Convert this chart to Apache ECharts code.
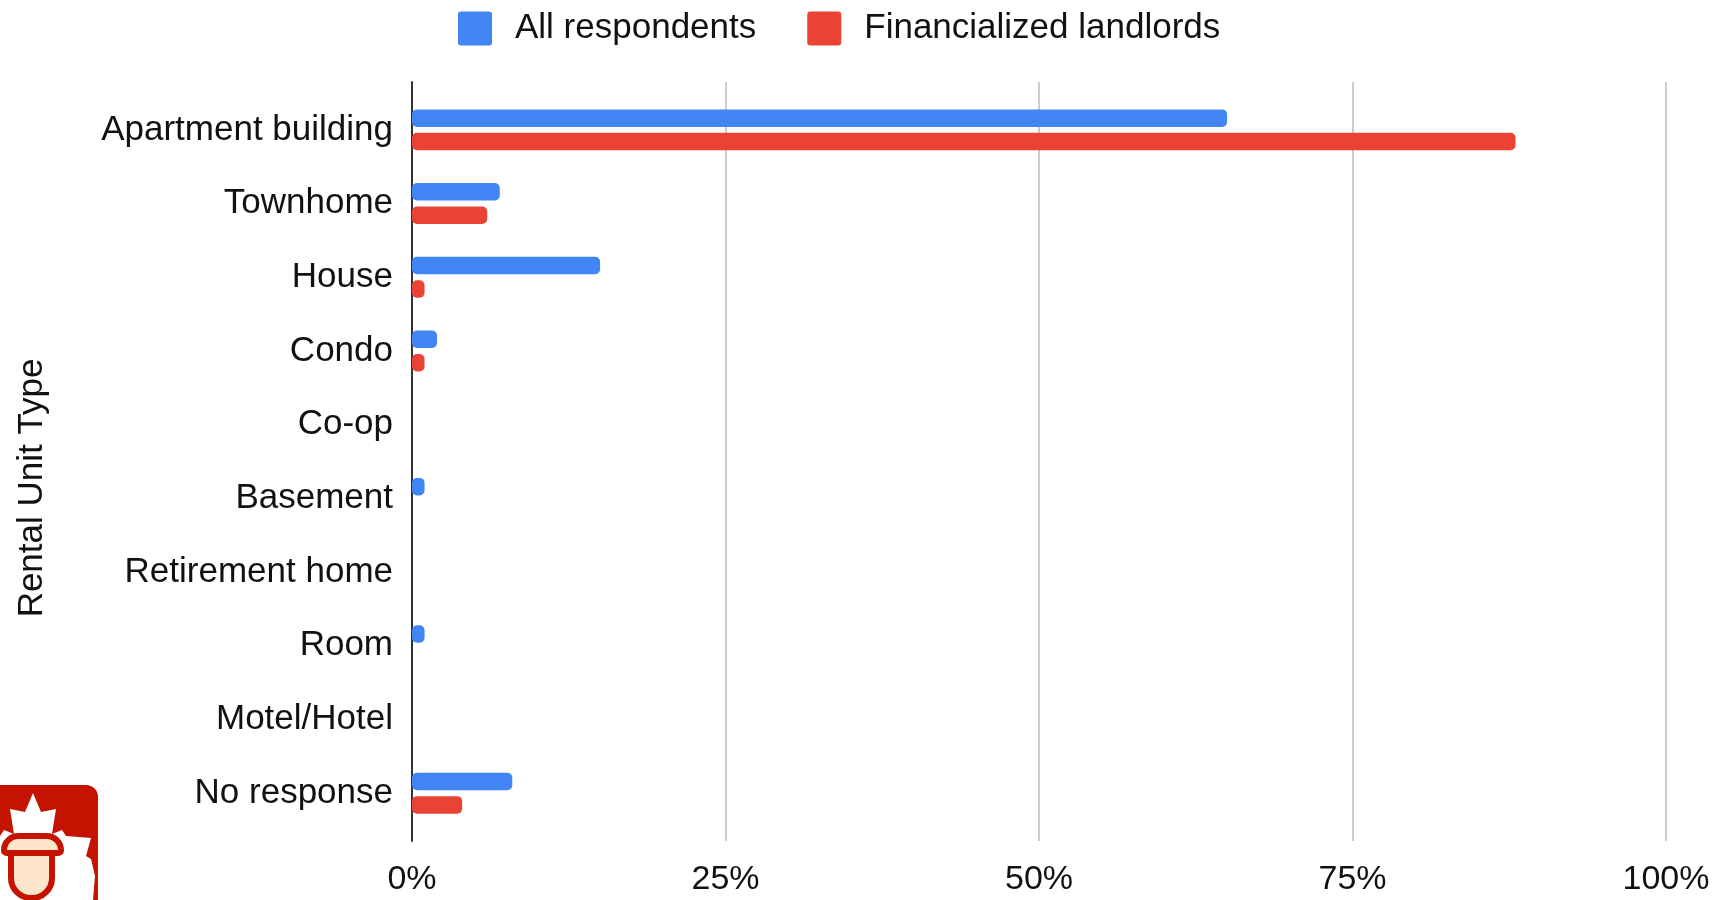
<!DOCTYPE html>
<html>
<head>
<meta charset="utf-8">
<title>Rental Unit Type</title>
<script src="https://cdn.jsdelivr.net/npm/echarts@6/dist/echarts.min.js"></script>
<style>
  html, body { margin: 0; padding: 0; background: #ffffff; }
  #chart { width: 1722px; height: 900px; }
</style>
</head>
<body>
<div id="chart"></div>
<script>
// Rental unit types, top to bottom
const categories = [
  'Apartment building', 'Townhome', 'House', 'Condo', 'Co-op',
  'Basement', 'Retirement home', 'Room', 'Motel/Hotel', 'No response'
];
// Share of respondents (%) per unit type
const allRespondents = [65, 7, 15, 2, 0, 1, 0, 1, 0, 8];
const financializedLandlords = [88, 6, 1, 1, 0, 0, 0, 0, 0, 4];
// Percentage axis ticks
const xTicks = [0, 25, 50, 75, 100];

const BLUE = '#4285F4';
const RED = '#EA4335';
const TEXT = '#111111';
const FONT = '"Liberation Sans", Arial, sans-serif';

const chart = echarts.init(document.getElementById('chart'), null, { renderer: 'canvas' });

// White maple leaf for the corner badge
const leafRight = [[33,793],[41,812],[56,809],[52,834],[62,830],[66,836],[91,838],[86,856],[91,859],[95,876],[93,900],[60,906]];
const leafPoints = leafRight.concat(leafRight.slice(1).reverse().map(p => [66 - p[0], p[1]]));

// Square legend swatch with slightly rounded corners
const SWATCH = 'path://M3,0 H31 Q34,0 34,3 V31 Q34,34 31,34 H3 Q0,34 0,31 V3 Q0,0 3,0 Z';

const option = {
  backgroundColor: '#ffffff',
  textStyle: { fontFamily: FONT },
  legend: {
    data: ['All respondents', 'Financialized landlords'],
    left: 453,
    top: 6,
    icon: SWATCH,
    itemWidth: 34,
    itemHeight: 34,
    itemGap: 51,
    selectedMode: false,
    textStyle: { fontSize: 35, color: TEXT, fontFamily: FONT, padding: [0, 0, 0, 18] }
  },
  grid: [
    // frame: gridlines, tick labels and the baseline
    { left: 412, right: 56, top: 82, bottom: 59, outerBoundsMode: 'none', containLabel: false },
    // bars and category labels
    { left: 412, right: 56, top: 93, bottom: 70, outerBoundsMode: 'none', containLabel: false }
  ],
  xAxis: [
    {
      gridIndex: 0,
      type: 'value',
      min: xTicks[0],
      max: xTicks[xTicks.length - 1],
      interval: xTicks[1] - xTicks[0],
      axisLine: { show: false },
      axisTick: { show: false },
      splitLine: { show: true, lineStyle: { color: '#cccccc', width: 2 } },
      axisLabel: {
        formatter: '{value}%',
        fontSize: 34,
        color: TEXT,
        fontFamily: FONT,
        margin: 22
      }
    },
    {
      gridIndex: 1,
      type: 'value',
      min: xTicks[0],
      max: xTicks[xTicks.length - 1],
      show: false
    }
  ],
  yAxis: [
    {
      gridIndex: 0,
      type: 'value',
      min: 0,
      max: 1,
      axisLine: { show: true, lineStyle: { color: '#333333', width: 2 } },
      axisTick: { show: false },
      axisLabel: { show: false },
      splitLine: { show: false }
    },
    {
      gridIndex: 1,
      type: 'category',
      data: categories,
      inverse: true,
      axisLine: { show: false },
      axisTick: { show: false },
      splitLine: { show: false },
      axisLabel: {
        fontSize: 35,
        color: TEXT,
        fontFamily: FONT,
        margin: 19,
        padding: [10, 0, 0, 0]
      }
    }
  ],
  series: [
    {
      name: 'All respondents',
      type: 'bar',
      xAxisIndex: 1,
      yAxisIndex: 1,
      data: allRespondents,
      barWidth: 17.5,
      barGap: '34%',
      itemStyle: { color: BLUE, borderRadius: 5 },
      emphasis: { disabled: true }
    },
    {
      name: 'Financialized landlords',
      type: 'bar',
      xAxisIndex: 1,
      yAxisIndex: 1,
      data: financializedLandlords,
      barWidth: 17.5,
      barGap: '34%',
      itemStyle: { color: RED, borderRadius: 5 },
      emphasis: { disabled: true }
    }
  ],
  graphic: [
    {
      type: 'text',
      x: 32,
      y: 488,
      rotation: Math.PI / 2,
      style: {
        text: 'Rental Unit Type',
        fontSize: 35,
        fontFamily: FONT,
        fill: TEXT,
        align: 'center',
        verticalAlign: 'middle'
      }
    },
    {
      type: 'group',
      silent: true,
      children: [
        { type: 'rect', shape: { x: -20, y: 785, width: 118, height: 140, r: 12 }, style: { fill: '#C41300' } },
        { type: 'polygon', shape: { points: leafPoints }, style: { fill: '#ffffff' } },
        { type: 'rect', shape: { x: 11, y: 852, width: 41, height: 46, r: [0, 0, 20, 20] },
          style: { fill: '#FDE5CA', stroke: '#C41300', lineWidth: 6 } },
        { type: 'rect', shape: { x: 4, y: 836, width: 57, height: 17, r: [17, 17, 3, 3] },
          style: { fill: '#FDE5CA', stroke: '#C41300', lineWidth: 6 } }
      ]
    }
  ]
};

chart.setOption(option);
</script>
</body>
</html>
